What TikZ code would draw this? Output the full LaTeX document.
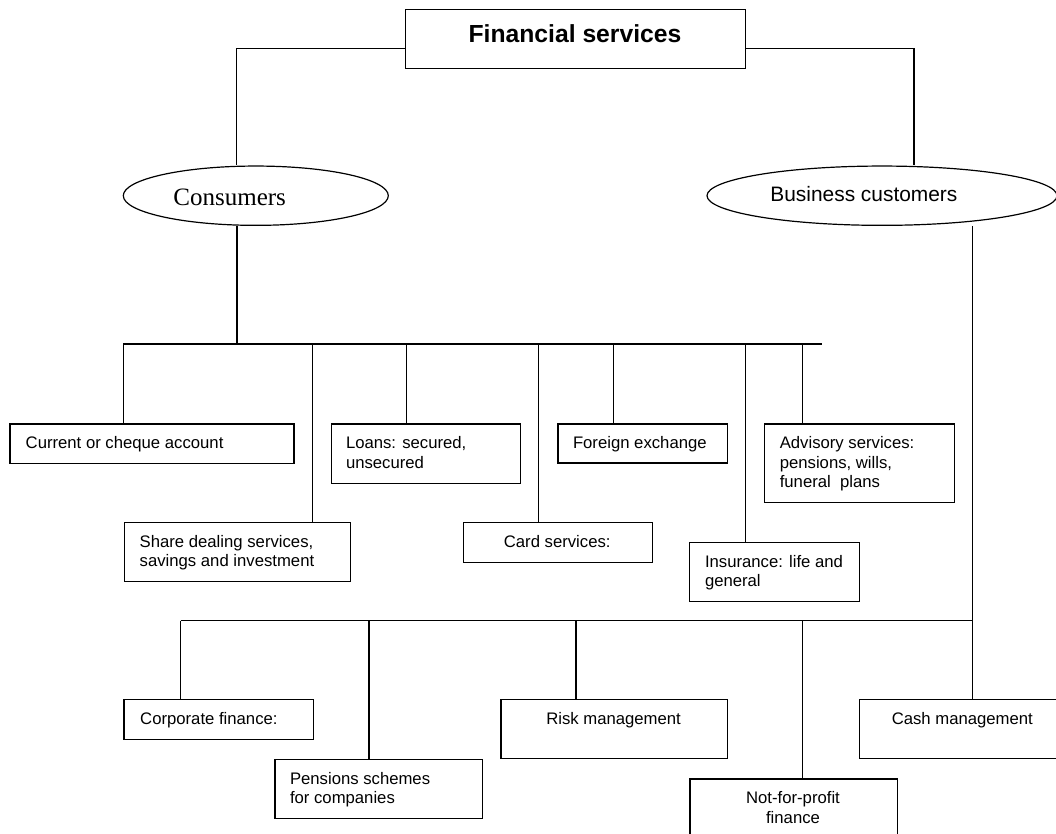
\documentclass[tikz,border=0pt]{standalone}
\usepackage{fontspec}
\setmainfont{Liberation Sans}
\newfontfamily\seriffont{Liberation Serif}
\usetikzlibrary{shapes.geometric}
\tikzset{
  box/.style={draw, line width=1.2pt, rectangle, inner sep=0pt, anchor=north west},
  lbl/.style={inner sep=0pt, font=\fontsize{16.7}{19.3}\selectfont},
  link/.style={line width=1.2pt},
  oval/.style={draw, ellipse, line width=1.2pt, inner sep=0pt},
}
\newcommand\bx[5]{\node[box, minimum width={(#4-#2)*1pt}, minimum height={(#5-#3)*1pt}] (#1) at (#2,#3) {};}
\newcommand\lt[4]{\node[lbl, anchor=north west, align=left] (#1) at (#2,#3) {\rule{0pt}{25.3pt}#4};}
\newcommand\ct[4]{\node[lbl, anchor=north, align=center] (#1) at (#2,#3) {\rule{0pt}{25.3pt}#4};}
\newcommand\drop[3]{\draw[link] (#1 -| #2,0) -- (#3.north -| #2,0);}
\begin{document}
\begin{tikzpicture}[x=1pt,y=-1pt]
\useasboundingbox (0,0) rectangle (1056,834);
\clip (0,0) rectangle (1056,834);
% title
\bx{title}{405}{9}{745}{68.3}
\node[inner sep=0pt, anchor=base, font=\bfseries\fontsize{24.7}{28}\selectfont] (titleT) at (575,42.7) {Financial services};
% ellipses
\node[oval, minimum width=265pt, minimum height=59.3pt] (consE) at (255.8,195.7) {};
\node[inner sep=0pt, anchor=base west, font=\seriffont\fontsize{25}{28}\selectfont] (consT) at (173.2,206) {Consumers};
\node[oval, minimum width=350pt, minimum height=59.3pt] (busE) at (882,195.7) {};
\node[inner sep=0pt, anchor=base west, font=\fontsize{20.9}{24}\selectfont] (busT) at (770.2,201.7) {Business customers};
% top connectors
\draw[link] (title.west |- 0,48.3) -| (consE.north -| 236.5,0);
\draw[link] (title.east |- 0,48.3) -| (busE.north -| 914,0);
% consumer boxes
\bx{cur}{9.3}{423.3}{293.3}{462.7}
\lt{curT}{25.5}{423.3}{Current or cheque account}
\bx{share}{124}{521.7}{350.2}{581}
\lt{shareT}{139.5}{521.7}{Share dealing services,\\savings and investment}
\bx{loans}{331}{423.3}{520}{482.5}
\lt{loansT}{345.8}{423.3}{Loans: secured,\\unsecured}
\bx{card}{462.7}{521.7}{651.7}{561.7}
\ct{cardT}{557.2}{521.7}{Card services:}
\bx{forex}{557.3}{423.3}{726.7}{462.3}
\lt{forexT}{572.8}{423.3}{Foreign exchange}
\bx{ins}{689}{541.7}{859.1}{601}
\lt{insT}{704.8}{541.7}{Insurance: life and\\general}
\bx{adv}{764.2}{423.3}{953.5}{501.7}
\lt{advT}{779.6}{423.3}{Advisory services:\\pensions, wills,\\funeral\ \ plans}
% business boxes
\bx{corp}{123.3}{699}{312.5}{738.7}
\lt{corpT}{140}{699}{Corporate finance:}
\bx{pens}{274.3}{758.7}{482.1}{817.7}
\lt{pensT}{289.8}{758.7}{Pensions schemes\\for companies}
\bx{risk}{500.3}{699}{726.8}{758}
\ct{riskT}{613.6}{699}{Risk management}
\bx{nfp}{689.3}{778.3}{896.7}{850}
\ct{nfpT}{793}{778.3}{Not-for-profit\\finance}
\bx{cash}{858.5}{699}{1066}{758}
\ct{cashT}{962.3}{699}{Cash management}
% consumer bus
\coordinate (b1L) at (123.3,344);
\coordinate (b1R) at (821.5,344);
\draw[link] (consE.south -| 237,0) -- (b1L -| 237,0);
\draw[link] (b1L) -- (b1R);
\drop{b1L}{123.3}{cur}
\drop{b1L}{312.7}{share}
\drop{b1L}{406.7}{loans}
\drop{b1L}{538.7}{card}
\drop{b1L}{613.7}{forex}
\drop{b1L}{745.8}{ins}
\drop{b1L}{802.4}{adv}
% business bus
\coordinate (b2L) at (180.7,620.7);
\coordinate (b2R) at (972.5,620.7);
\draw[link] (busE.south -| 972.5,0) -- (cash.north -| 972.5,0);
\draw[link] (b2L) -- (b2R);
\drop{b2L}{180.7}{corp}
\drop{b2L}{369}{pens}
\drop{b2L}{576}{risk}
\drop{b2L}{802.4}{nfp}
\end{tikzpicture}
\end{document}
